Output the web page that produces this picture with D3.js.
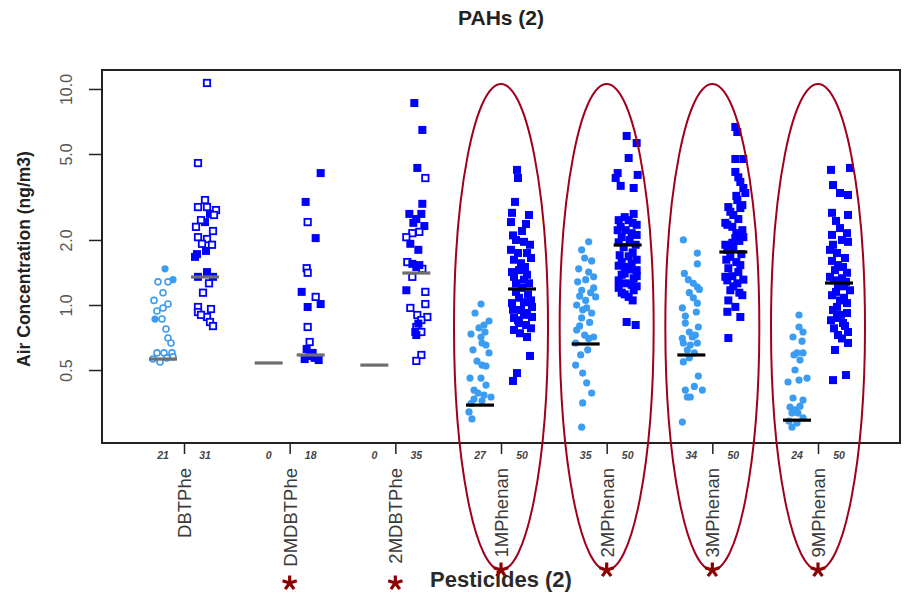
<!DOCTYPE html>
<html><head><meta charset="utf-8">
<script src="https://cdn.jsdelivr.net/npm/d3@7"></script>
<style>body{margin:0;background:#fff} svg{display:block} text{font-family:"Liberation Sans",Arial,Helvetica,sans-serif}</style>
</head><body><svg id="c" width="904" height="598"></svg>
<script>
// ---------- data ----------
const categories = ["DBTPhe","DMDBTPhe","2MDBTPhe","1MPhenan","2MPhenan","3MPhenan","9MPhenan"];
const yTicks = [0.5, 1.0, 2.0, 5.0, 10.0];
const leftCounts  = [21, 0, 0, 27, 35, 34, 24];
const rightCounts = [31, 18, 35, 50, 50, 50, 50];
const leftMedians  = [0.562, 0.539, 0.527, 0.344, 0.660, 0.587, 0.293];
const rightMedians = [1.348, 0.587, 1.406, 1.186, 1.896, 1.759, 1.264];
const circled = [false, false, false, true, true, true, true];
const starred = [false, true, true, true, true, true, true];

// each point: [value, jitter, filled]
const dbtpheLeft = [[1.47,2,1],[1.28,-5,0],[1.28,5,0],[1.31,10,1],[1.14,0,0],[1.05,-9,0],[1.01,5,0],[0.969,0,0],[0.938,-6,0],[0.861,-8,1],[0.861,-1,0],[0.774,3,0],[0.703,5,0],[0.667,8,0],[0.60,-6,0],[0.60,1,0],[0.60,9,0],[0.562,-10,0],[0.545,-3,0],[0.569,4,0],[0.575,10,0]];
const dbtpheRight = [[10.66,2,0],[4.54,-7,0],[3.06,0,0],[2.84,-7,0],[2.84,2,0],[2.75,11,0],[2.64,5,1],[2.42,0,1],[2.20,8,0],[2.06,-7,0],[2.02,2,0],[1.90,7,0],[1.72,-8,1],[1.78,1,1],[1.67,-10,1],[1.42,2,1],[1.35,-7,1],[1.35,8,1],[1.26,4,0],[1.14,-2,0],[0.979,-7,0],[0.958,6,0],[0.928,-7,0],[0.880,2,0],[0.834,5,0],[0.799,8,0],[2.47,-4,0],[2.61,9,0],[1.92,-3,0],[2.30,-9,0],[0.90,-4,0]];
const dmdbtpheLeft = [];
const dmdbtpheRight = [[4.08,10,1],[3.00,-5,1],[2.42,-3,0],[2.04,5,1],[1.48,-4,0],[1.41,-3,0],[1.15,-9,1],[1.09,5,0],[0.979,-3,1],[1.01,10,1],[0.791,-3,0],[0.674,-1,0],[0.626,-4,1],[0.60,2,1],[0.562,-6,1],[0.569,4,1],[0.58,-1,1],[0.556,8,1]];
const mdbtpheLeft = [];
const mdbtpheRight = [[8.61,-2,1],[6.46,6,1],[4.31,1,1],[3.87,9,0],[2.94,6,1],[2.64,-7,1],[2.64,5,1],[2.32,8,1],[2.18,3,0],[2.15,-4,0],[2.06,-10,0],[1.92,-6,1],[1.58,-9,0],[1.55,-4,1],[1.50,0,1],[1.47,6,0],[1.35,-4,0],[1.17,-10,1],[1.15,9,0],[1.01,9,0],[0.969,-6,0],[0.899,1,0],[0.880,11,0],[0.852,5,0],[0.791,0,0],[0.750,-1,1],[0.750,5,0],[0.726,0,1],[0.587,5,0],[0.551,0,0],[2.40,-3,1],[1.80,2,1],[1.53,3,1],[0.82,2,1],[2.50,0,1]];
const p1Left = [[1.01,1,1],[0.918,-5,1],[0.843,9,1],[0.808,4,1],[0.783,-1,1],[0.734,-9,1],[0.711,1,1],[0.667,2,1],[0.653,6,1],[0.60,9,1],[0.527,2,1],[0.522,6,1],[0.459,-10,1],[0.459,1,1],[0.426,6,1],[0.404,-6,1],[0.391,-2,1],[0.383,4,1],[0.375,11,1],[0.367,-6,1],[0.36,2,1],[0.297,-8,1],[0.55,-3,1],[0.62,-7,1],[0.75,5,1],[0.35,-9,1],[0.32,-11,1]];
const p1Right = [[4.22,-5,1],[3.87,-4,1],[3.00,-7,1],[2.67,-10,1],[2.61,7,1],[2.42,-11,1],[2.37,4,1],[2.00,-6,1],[1.96,2,1],[1.80,-11,1],[1.74,-4,1],[1.74,5,1],[1.62,-8,1],[1.56,-1,1],[1.45,-3,1],[1.38,5,1],[1.35,-8,1],[1.31,2,1],[1.26,-6,1],[1.26,7,1],[1.02,-10,1],[1.03,2,1],[0.979,10,1],[0.948,-1,1],[0.918,5,1],[0.871,-8,1],[0.880,10,1],[0.825,-3,1],[0.808,4,1],[0.766,-8,1],[0.711,5,1],[0.581,8,1],[0.484,-5,1],[0.445,-9,1],[2.2,0,1],[2.1,-9,1],[1.9,8,1],[1.65,9,1],[1.5,3,1],[1.42,-10,1],[1.2,0,1],[1.15,-6,1],[1.12,6,1],[1.08,-3,1],[1.05,9,1],[0.95,-9,1],[0.9,2,1],[0.85,-4,1],[0.78,9,1],[0.74,-2,1]];
const p2Left = [[1.96,3,1],[1.80,-4,1],[1.65,-1,1],[1.47,-7,1],[1.35,8,1],[1.31,0,1],[1.28,-8,1],[1.17,-4,1],[1.14,5,1],[1.09,10,1],[1.05,0,1],[0.999,-9,1],[0.969,1,1],[0.918,6,1],[0.871,-4,1],[0.766,-9,1],[0.726,-1,1],[0.711,8,1],[0.667,-10,1],[0.587,-5,1],[0.527,-10,1],[0.484,-3,1],[0.436,1,1],[0.391,6,1],[0.352,-3,1],[0.272,-4,1],[1.6,6,1],[1.42,3,1],[1.2,8,1],[1.1,-6,1],[0.95,-3,1],[0.83,4,1],[0.8,-6,1],[0.7,3,1],[0.62,2,1]];
const p2Right = [[6.06,-1,1],[5.62,9,1],[4.79,1,1],[4.08,-10,1],[4.00,10,1],[3.87,-12,1],[3.56,-7,1],[3.48,6,1],[2.64,6,1],[2.47,-9,1],[2.47,1,1],[2.35,9,1],[2.22,-10,1],[2.22,-2,1],[2.15,4,1],[2.06,-6,1],[2.11,9,1],[1.58,-6,1],[1.55,4,1],[1.50,-2,1],[1.45,9,1],[1.38,-6,1],[1.33,6,1],[1.26,-2,1],[1.20,-9,1],[1.17,6,1],[1.09,1,1],[1.14,-6,1],[0.834,-1,1],[0.808,8,1],[2.55,-3,1],[2.4,5,1],[2.3,-7,1],[2.0,2,1],[1.95,-9,1],[1.9,8,1],[1.85,-4,1],[1.75,5,1],[1.7,-8,1],[1.68,1,1],[1.62,9,1],[1.52,-9,1],[1.46,3,1],[1.4,-3,1],[1.36,9,1],[1.3,-9,1],[1.24,4,1],[1.22,9,1],[1.12,-3,1],[1.05,5,1]];
const p3Left = [[2.00,-8,1],[1.74,6,1],[1.55,6,1],[1.31,-3,1],[1.26,2,1],[1.21,6,1],[1.14,-2,1],[1.08,2,1],[1.02,6,1],[0.969,-9,1],[0.928,5,1],[0.889,-6,1],[0.825,-6,1],[0.791,7,1],[0.711,1,1],[0.726,4,1],[0.667,-8,1],[0.653,-1,1],[0.667,6,1],[0.619,-4,1],[0.545,-8,1],[0.469,7,1],[0.404,-6,1],[0.404,11,1],[0.375,-1,1],[0.375,-4,1],[0.287,-9,1],[1.4,-7,1],[1.18,8,1],[0.75,-2,1],[0.7,-9,1],[0.6,3,1],[0.57,-2,1],[0.42,3,1]];
const p3Right = [[6.67,2,1],[6.32,4,1],[4.74,2,1],[4.74,10,1],[4.13,2,1],[3.71,7,1],[3.48,10,1],[3.30,12,1],[3.06,4,1],[2.84,-5,1],[2.81,7,1],[2.61,0,1],[2.40,-8,1],[2.30,-1,1],[2.22,9,1],[2.06,10,1],[2.04,2,1],[1.90,-8,1],[1.94,-1,1],[1.67,-3,1],[1.53,7,1],[1.35,-8,1],[1.36,-1,1],[1.31,10,1],[1.26,4,1],[1.17,-3,1],[1.11,9,1],[1.05,-5,1],[0.880,7,1],[0.703,-5,1],[3.9,5,1],[3.2,3,1],[2.9,9,1],[2.7,-3,1],[2.5,5,1],[2.35,-6,1],[2.15,3,1],[1.98,6,1],[1.85,0,1],[1.8,-6,1],[1.72,8,1],[1.62,-7,1],[1.58,3,1],[1.48,-5,1],[1.42,5,1],[1.3,-6,1],[1.22,0,1],[1.14,6,1],[0.98,2,1],[0.93,-6,1]];
const p9Left = [[0.899,2,1],[0.791,2,1],[0.750,6,1],[0.711,-4,1],[0.60,0,1],[0.60,6,1],[0.556,3,1],[0.587,-3,1],[0.440,-9,1],[0.449,2,1],[0.459,10,1],[0.371,-4,1],[0.363,6,1],[0.337,-7,1],[0.327,-2,1],[0.316,-5,1],[0.316,1,1],[0.272,-5,1],[0.284,0,1],[0.29,-8,1],[0.68,5,1],[0.5,-2,1],[0.34,3,1],[0.3,6,1]];
const p9Right = [[4.22,-8,1],[4.31,11,1],[3.59,-6,1],[3.30,1,1],[3.23,9,1],[2.67,-7,1],[2.61,9,1],[2.27,1,1],[2.11,-7,1],[2.15,8,1],[1.96,9,1],[1.80,-9,1],[1.74,-2,1],[1.53,-1,1],[1.41,8,1],[1.35,-9,1],[1.33,3,1],[1.17,11,1],[1.11,-7,1],[1.05,1,1],[1.02,8,1],[0.948,-6,1],[0.918,8,1],[0.871,-2,1],[0.825,4,1],[0.750,9,1],[0.726,-1,1],[0.667,9,1],[0.619,-4,1],[0.449,-6,1],[0.474,7,1],[2.45,-3,1],[2.0,3,1],[1.9,-6,1],[1.65,6,1],[1.6,-7,1],[1.5,4,1],[1.45,-4,1],[1.3,-5,1],[1.28,7,1],[1.24,-1,1],[1.22,5,1],[1.15,-3,1],[1.08,5,1],[0.98,-2,1],[0.9,2,1],[0.85,-8,1],[0.8,6,1],[0.78,-5,1],[0.7,3,1]];

const leftSeries  = [dbtpheLeft, dmdbtpheLeft, mdbtpheLeft, p1Left, p2Left, p3Left, p9Left];
const rightSeries = [dbtpheRight, dmdbtpheRight, mdbtpheRight, p1Right, p2Right, p3Right, p9Right];

// ---------- drawing ----------
const svg = d3.select("#c");
const L = 102, R = 900, T = 70, B = 443;
const y = d3.scaleLog().domain([0.2297, 12.24]).range([B, T]);
const x = d3.scalePoint().domain(categories).range([L, R]).padding(0.776);
const off = 21;
const cLight = "#3a9cf2", cBlue = "#0000ff", cRed = "#a0001c", cText = "#333";

// title
svg.append("text").attr("x", 501).attr("y", 25).attr("text-anchor", "middle")
  .attr("font-size", 21).attr("font-weight", "bold").attr("fill", "#222").text("PAHs (2)");

// y axis
const ya = svg.append("g").attr("transform", `translate(${L},0)`)
  .call(d3.axisLeft(y).tickValues(yTicks).tickFormat(d3.format(".1f")).tickSize(13));
ya.select(".domain").remove();
ya.selectAll(".tick line").attr("stroke", "#222").attr("stroke-width", 1.5);
ya.selectAll(".tick text").attr("x", null).attr("dy", null)
  .attr("transform", "translate(-30,0) rotate(-90)").attr("text-anchor", "middle")
  .attr("font-size", 16).attr("fill", "#555").attr("font-family", '"Liberation Sans",Arial,sans-serif');
svg.append("text").attr("transform", "translate(30,259) rotate(-90)").attr("text-anchor", "middle")
  .attr("font-size", 17.5).attr("font-weight", "bold").attr("fill", "#222").text("Air Concentration (ng/m3)");

// x axis ticks
const xa = svg.append("g").attr("transform", `translate(0,${B})`)
  .call(d3.axisBottom(x).tickSize(11).tickFormat(""));
xa.select(".domain").remove();
xa.selectAll(".tick line").attr("stroke", "#222").attr("stroke-width", 1.5);

// box
svg.append("rect").attr("x", L).attr("y", T).attr("width", R - L).attr("height", B - T)
  .attr("fill", "none").attr("stroke", "#222").attr("stroke-width", 2);

// counts
categories.forEach((c, i) => {
  [[-off, leftCounts[i]], [off, rightCounts[i]]].forEach(([dx, n]) => {
    svg.append("text").attr("x", x(c) + dx).attr("y", 459).attr("text-anchor", "middle")
      .attr("font-size", 10.5).attr("font-style", "italic").attr("font-weight", "bold")
      .attr("fill", "#444").text(n);
  });
  svg.append("text").attr("transform", `translate(${x(c) + 7},468) rotate(-90)`)
    .attr("text-anchor", "end").attr("font-size", 18.5).attr("fill", "#3a3a3a").text(c);
});

// points
function drawPoints(data, cx, isLeft) {
  const g = svg.append("g");
  data.forEach(([v, dx, f]) => {
    const px = cx + dx, py = y(v);
    if (isLeft) {
      g.append("circle").attr("cx", px).attr("cy", py).attr("r", f ? 3.6 : 3)
        .attr("fill", f ? cLight : "#fff").attr("stroke", cLight).attr("stroke-width", f ? 0 : 1.6);
    } else {
      if (f) g.append("rect").attr("x", px - 4).attr("y", py - 4).attr("width", 8).attr("height", 8).attr("fill", cBlue);
      else g.append("rect").attr("x", px - 3.2).attr("y", py - 3.2).attr("width", 6.4).attr("height", 6.4)
        .attr("fill", "#fff").attr("stroke", cBlue).attr("stroke-width", 1.8);
    }
  });
}
categories.forEach((c, i) => {
  drawPoints(leftSeries[i], x(c) - off, true);
  drawPoints(rightSeries[i], x(c) + off, false);
});

// medians
categories.forEach((c, i) => {
  const col = circled[i] ? "#000" : "#6e6e6e";
  [[-off, leftMedians[i]], [off, rightMedians[i]]].forEach(([dx, m]) => {
    svg.append("line").attr("x1", x(c) + dx - 14).attr("x2", x(c) + dx + 14)
      .attr("y1", y(m)).attr("y2", y(m)).attr("stroke", col).attr("stroke-width", 3.2);
  });
});

// ellipses
categories.forEach((c, i) => {
  if (!circled[i]) return;
  svg.append("ellipse").attr("cx", x(c)).attr("cy", 327).attr("rx", 47).attr("ry", 243)
    .attr("fill", "none").attr("stroke", cRed).attr("stroke-width", 2);
});

// axis label
svg.append("text").attr("x", 501).attr("y", 587).attr("text-anchor", "middle")
  .attr("font-size", 22).attr("font-weight", "bold").attr("fill", "#2a2a2a").text("Pesticides (2)");

// stars
const armAngles = [-90, -18, 54, 126, 198].map(a => a * Math.PI / 180);
categories.forEach((c, i) => {
  if (!starred[i]) return;
  const sy = circled[i] ? 570 : 583;
  const cx = x(c);
  const g = svg.append("g").attr("transform", `translate(${cx},${sy})`);
  armAngles.forEach(a => {
    g.append("line").attr("x1", 0).attr("y1", 0).attr("x2", 7.5 * Math.cos(a)).attr("y2", 7.5 * Math.sin(a))
      .attr("stroke", "#8b0000").attr("stroke-width", 3.2).attr("stroke-linecap", "butt");
  });
});
</script></body></html>
